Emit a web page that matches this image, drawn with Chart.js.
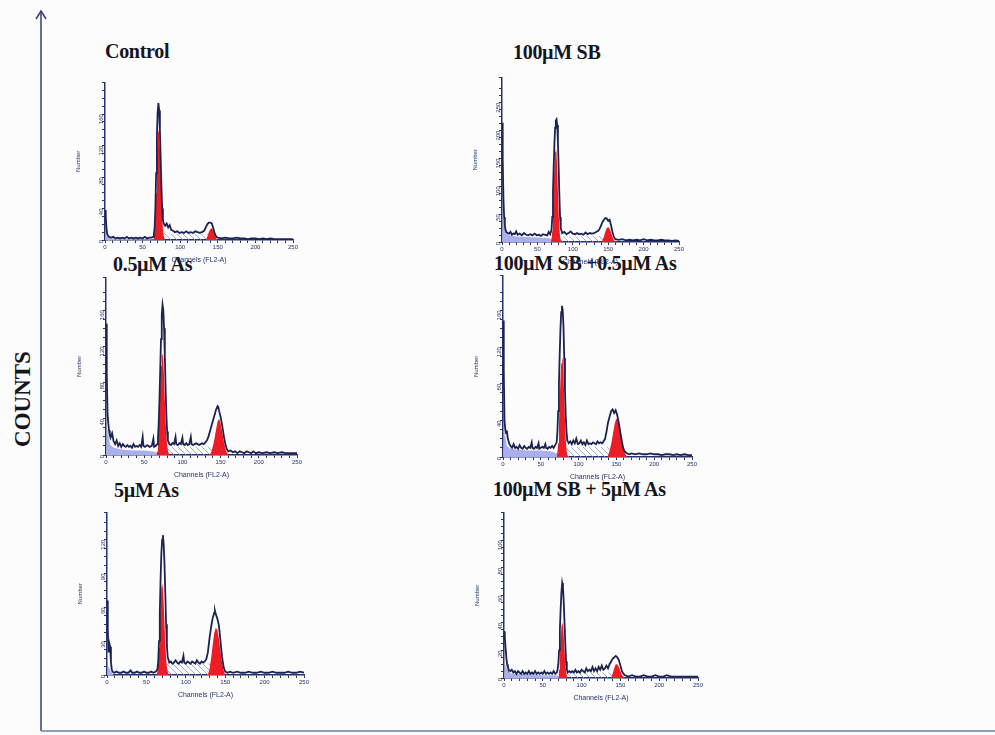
<!DOCTYPE html>
<html>
<head>
<meta charset="utf-8">
<script src="https://cdn.jsdelivr.net/npm/chart.js@4.4.1/dist/chart.umd.min.js"></script>
<style>
  body { margin: 0; background: #fcfcfc; }
  #page { position: relative; width: 995px; height: 735px; overflow: hidden; }
  #page canvas { position: absolute; }
  .ttl { position: absolute; font: bold 20px "Liberation Serif", "Times New Roman", serif; line-height: 20px;
         color: #15151f; white-space: nowrap; letter-spacing: -0.3px; }
  #counts { position: absolute; left: -38px; top: 387px; width: 120px; height: 24px; line-height: 24px;
            text-align: center; font: bold 23px "Liberation Serif", serif; color: #15151f;
            transform: rotate(-90deg); }
  svg { position: absolute; left: 0; top: 0; }
</style>
</head>
<body>
<div id="page">
  <svg width="995" height="735">
    <polyline points="36,19 41,11 46,19" fill="none" stroke="#34406e" stroke-width="1.5"/>
    <line x1="41" y1="11" x2="41" y2="731" stroke="#34406e" stroke-width="1.5"/>
    <line x1="41" y1="731" x2="995" y2="731" stroke="#8f9ec0" stroke-width="2"/>
  </svg>
  <div id="counts">COUNTS</div>
  <div class="ttl" style="left:105px; top:41px">Control</div>
  <div class="ttl" style="left:513px; top:42px">100µM SB</div>
  <div class="ttl" style="left:113px; top:254px">0.5µM As</div>
  <div class="ttl" style="left:494px; top:253px">100µM SB +0.5µM As</div>
  <div class="ttl" style="left:114px; top:480px">5µM As</div>
  <div class="ttl" style="left:493px; top:479px">100µM SB + 5µM As</div>
</div>
<script>
// ---- Control ----
const ctrlCh = [0,1,2,3,5,8,11,14,17,20,23,26,29,32,35,38,41,44,47,50,53,56,59,62,64,65,66,67,68,69,70,71,72,73,74,75,76,77,78,80,82,84,86,88,90,93,96,99,102,105,108,111,114,117,120,123,126,129,132,134,136,138,140,142,144,146,148,150,155,160,165,170,175,180,185,190,195,200,205,210,215,220,225,230,235,240,245,250];
const ctrlCounts = [38,30,14,7,4,3,4,2,3,2,3,2,4,2,3,2,3,2,3,2,4,2,3,3,4,7,16,40,85,130,162,174,165,140,105,68,40,26,21,18,21,16,19,13,12,10,11,9,10,9,11,9,10,9,11,10,9,10,12,16,20,22,22,21,15,8,4,3,2,3,2,2,3,2,2,1,2,2,1,2,1,2,1,1,1,1,1,1];
const ctrlG1Ch = [64,65,66,67,68,69,70,71,72,73,74,75,76,77,78,79,80];
const ctrlG1 = [0,3,10,28,60,100,130,140,135,115,85,55,30,14,6,2,0];
const ctrlG2Ch = [134,136,138,140,142,144,146,148,150];
const ctrlG2 = [0,4,10,14,15,12,6,2,0];
const ctrlSCh = [70,74,80,90,100,110,120,130,140,146,150];
const ctrlS = [0,8,9,8,8,8,8,8,7,4,0];
const ctrlDebCh = [0,2,5,10,20,40,60,70];
const ctrlDeb = [0,6,3,2,2,1,1,0];

// ---- 100uM SB ----
const sbCh = [0,1,2,3,4,5,6,8,10,12,14,16,18,20,22,25,28,31,34,37,40,43,46,49,52,55,58,61,64,66,68,70,71,72,73,74,75,76,77,78,79,80,81,82,83,85,88,91,94,97,100,103,106,109,112,115,118,121,124,127,130,133,136,138,140,142,144,146,148,150,152,154,156,158,160,165,170,175,180,185,190,195,200,205,210,215,220,225,230,235,240,245,250];
const sbCounts = [214,150,80,45,30,22,18,16,15,18,13,15,14,19,13,15,12,16,13,12,14,12,15,12,13,11,14,13,12,18,14,22,45,90,135,175,205,218,220,210,180,135,85,45,25,16,18,14,16,19,15,14,16,14,15,13,17,14,16,15,16,18,20,24,30,36,40,43,42,38,40,30,18,9,5,4,5,3,4,3,4,3,5,3,4,3,3,4,3,3,2,3,2];
const sbG1Ch = [69,70,71,72,73,74,75,76,77,78,79,80,81,82,83,84];
const sbG1 = [0,5,20,50,95,135,162,170,160,130,90,52,25,10,3,0];
const sbG2Ch = [140,142,144,146,148,150,152,154,156,158,160,162];
const sbG2 = [0,3,10,19,25,27,24,17,9,3,1,0];
const sbSCh = [72,78,85,100,115,130,140,148,156,162];
const sbS = [0,8,10,10,11,11,11,9,4,0];
const sbDebCh = [0,2,5,10,20,35,50,65,75,80];
const sbDeb = [0,40,18,12,10,9,8,7,4,0];

// ---- 0.5uM As ----
const asCh = [0,1,2,3,4,5,6,8,10,12,14,16,18,20,22,24,26,28,30,32,34,36,38,40,42,44,46,48,49,51,54,57,60,62,63,65,67,68,69,70,71,72,73,74,75,76,77,78,79,80,81,83,85,87,89,91,92,94,96,98,100,101,103,105,107,109,111,112,114,116,118,120,122,124,126,128,130,132,134,136,138,140,142,144,146,147,148,150,152,154,156,158,160,163,166,169,172,175,178,181,184,187,190,193,196,200,205,210,215,220,225,230,235,240,245,250];
const asCounts = [145,90,46,35,27,22,19,24,15,12,16,10,13,9,12,10,9,11,9,10,8,12,9,10,9,11,9,20,10,9,11,9,10,18,9,10,12,18,35,62,95,128,155,166,160,140,110,75,45,26,16,12,11,13,12,20,12,11,13,12,19,12,11,13,11,12,20,12,11,12,13,12,11,12,13,12,14,16,20,26,32,38,44,50,54,53,49,42,33,22,13,7,4,5,3,4,2,4,3,2,4,3,2,4,2,3,2,3,2,3,2,3,2,2,2,2];
const asG1Ch = [66,67,68,69,70,71,72,73,74,75,76,77,78,79,80,81,82,83,84];
const asG1 = [0,4,12,28,52,78,98,110,112,104,86,62,40,22,11,5,2,1,0];
const asG2Ch = [136,138,140,142,144,146,148,150,152,154,156,158,160];
const asG2 = [0,4,10,18,28,37,40,35,26,16,8,3,0];
const asSCh = [74,80,90,100,110,120,130,140,150,156,160];
const asS = [0,8,9,9,9,9,9,9,7,3,0];
const asDebCh = [0,2,5,10,20,35,50,62,70,74];
const asDeb = [0,30,12,8,6,5,5,4,2,0];

// ---- 100uM SB + 0.5uM As ----
const sbAsCh = [0,1,2,3,4,5,6,8,10,12,14,16,18,20,22,24,26,28,30,32,34,36,38,39,41,43,45,47,48,50,52,54,56,57,59,61,63,65,67,69,71,72,73,74,75,76,77,78,79,80,81,82,83,84,85,87,89,91,93,95,97,99,101,103,105,107,109,111,113,115,117,119,121,123,125,127,129,131,133,135,137,139,141,143,145,147,149,151,153,155,157,159,161,164,167,170,175,180,185,190,195,200,205,210,215,220,225,230,235,240,245,250];
const sbAsCounts = [149,95,40,30,26,29,22,15,12,10,14,10,11,9,13,10,9,12,10,9,11,10,16,10,9,11,10,15,9,10,11,10,14,10,9,11,10,12,10,13,16,28,50,80,112,140,158,165,160,142,108,72,45,28,18,15,17,14,18,15,20,14,15,18,14,16,13,18,14,15,14,16,15,14,17,15,16,15,17,20,28,38,44,50,52,48,51,46,38,28,18,10,6,4,3,4,3,4,3,3,4,3,3,2,3,3,2,3,2,3,2,2];
const sbAsG1Ch = [71,72,73,74,75,76,77,78,79,80,81,82,83,84,85,86];
const sbAsG1 = [0,5,15,35,60,85,102,109,105,90,65,40,20,8,2,0];
const sbAsG2Ch = [138,140,142,144,146,148,150,152,154,156,158,160,162,164];
const sbAsG2 = [0,4,10,18,28,37,42,41,35,26,16,8,3,0];
const sbAsSCh = [78,84,95,105,115,125,135,145,155,160,164];
const sbAsS = [0,10,11,11,11,11,11,10,7,3,0];
const sbAsDebCh = [0,2,5,10,20,35,50,65,74,78];
const sbAsDeb = [0,30,12,9,8,7,7,6,3,0];

// ---- 5uM As ----
const as5Ch = [0,1,2,3,4,5,6,7,9,12,15,18,21,24,27,30,32,35,38,41,44,47,50,53,56,59,62,64,65,66,67,68,69,70,71,72,73,74,75,76,77,79,81,83,85,87,89,91,93,95,97,98,100,102,104,106,108,110,112,114,116,118,120,122,124,126,128,130,132,134,136,137,138,140,142,144,146,148,150,153,156,160,165,170,175,180,185,190,195,200,205,210,215,220,225,230,235,240,245,250];
const as5Counts = [66,40,20,28,25,12,5,3,2,3,2,2,3,2,2,4,2,2,3,2,2,3,2,2,3,2,3,5,12,30,55,85,108,120,124,115,98,72,45,26,16,11,12,10,11,13,11,10,12,11,17,11,10,12,11,10,12,11,10,13,11,10,12,11,12,14,20,32,42,50,55,57,54,50,44,30,16,7,3,2,3,2,3,2,2,3,2,2,3,2,2,3,2,2,2,3,2,2,3,2];
const as5G1Ch = [63,64,65,66,67,68,69,70,71,72,73,74,75,76,77,78,79];
const as5G1 = [0,3,10,24,44,64,77,81,76,62,45,28,15,7,3,1,0];
const as5G2Ch = [128,130,132,134,136,138,140,142,144,146,148,150];
const as5G2 = [0,5,14,26,37,42,40,32,21,11,4,0];
const as5SCh = [70,76,85,95,105,115,125,135,142,147,150];
const as5S = [0,10,10,10,10,10,10,10,8,3,0];
const as5DebCh = [0,2,5,8];
const as5Deb = [0,8,3,0];

// ---- 100uM SB + 5uM As ----
const sbAs5Ch = [0,1,2,3,4,5,6,8,10,12,14,16,18,20,22,24,26,28,30,32,34,36,38,40,42,44,46,48,50,52,54,56,58,60,62,64,66,68,69,70,71,72,73,74,75,76,77,78,79,80,81,82,84,86,88,90,92,94,96,98,100,102,104,106,108,110,112,114,116,118,120,122,124,126,128,130,132,134,136,138,140,142,144,146,148,150,152,154,156,160,165,170,175,180,185,190,195,200,205,210,215,220,225,230,235,240,245,250];
const sbAs5Counts = [34,30,22,15,10,8,6,5,6,4,5,3,5,4,3,5,3,4,3,5,3,4,3,5,3,4,3,4,3,5,3,4,3,4,3,5,3,4,6,10,20,35,50,62,69,66,55,40,25,12,6,4,5,4,5,4,6,4,5,4,6,5,4,7,5,6,5,8,5,7,5,8,6,9,6,7,9,7,10,12,14,15,16,15,13,9,5,3,2,1,2,1,1,2,1,1,2,1,1,2,1,1,1,1,1,1,1,1];
const sbAs5G1Ch = [70,71,72,73,74,75,76,77,78,79,80,81,82];
const sbAs5G1 = [0,6,16,28,37,40,38,30,20,11,5,1,0];
const sbAs5G2Ch = [138,140,142,144,146,148,150,152,154,156];
const sbAs5G2 = [0,3,7,10,10,8,5,2,1,0];
const sbAs5SCh = [76,82,95,110,125,140,148,154];
const sbAs5S = [0,4,4,4,4,4,2,0];
const sbAs5DebCh = [0,2,5,10,30,50,68,72];
const sbAs5Deb = [0,10,5,3,3,2,2,0];

// channel tick labels, y tick steps
const xMax = 250;
const xLabelStep = 50;

const pts = (xs, ys) => xs.map((x, i) => ({ x: x, y: ys[i] }));

// chart areas (left, top, right, bottom) in page pixels
const panels = [
  { area: [105, 82, 293, 240],  yMax: 200, yStep: 40, h: [ctrlCh, ctrlCounts], g1: [ctrlG1Ch, ctrlG1], g2: [ctrlG2Ch, ctrlG2], s: [ctrlSCh, ctrlS], deb: [ctrlDebCh, ctrlDeb] },
  { area: [502, 77, 679, 242],  yMax: 295, yStep: 50, h: [sbCh, sbCounts], g1: [sbG1Ch, sbG1], g2: [sbG2Ch, sbG2], s: [sbSCh, sbS], deb: [sbDebCh, sbDeb] },
  { area: [106, 277, 297, 455], yMax: 196, yStep: 40, h: [asCh, asCounts], g1: [asG1Ch, asG1], g2: [asG2Ch, asG2], s: [asSCh, asS], deb: [asDebCh, asDeb] },
  { area: [503, 275, 692, 457], yMax: 198, yStep: 40, h: [sbAsCh, sbAsCounts], g1: [sbAsG1Ch, sbAsG1], g2: [sbAsG2Ch, sbAsG2], s: [sbAsSCh, sbAsS], deb: [sbAsDebCh, sbAsDeb] },
  { area: [107, 512, 304, 675], yMax: 144, yStep: 30, h: [as5Ch, as5Counts], g1: [as5G1Ch, as5G1], g2: [as5G2Ch, as5G2], s: [as5SCh, as5S], deb: [as5DebCh, as5Deb] },
  { area: [504, 512, 698, 678], yMax: 120, yStep: 20, h: [sbAs5Ch, sbAs5Counts], g1: [sbAs5G1Ch, sbAs5G1], g2: [sbAs5G2Ch, sbAs5G2], s: [sbAs5SCh, sbAs5S], deb: [sbAs5DebCh, sbAs5Deb] }
];

const navy = '#26306a';
const red = '#ee1c25';
const lavender = '#aab0ee';

function hatchPattern() {
  const c = document.createElement('canvas');
  c.width = 6; c.height = 6;
  const g = c.getContext('2d');
  g.strokeStyle = '#8e94b8';
  g.lineWidth = 0.8;
  g.beginPath();
  g.moveTo(0, 0); g.lineTo(6, 6);
  g.moveTo(-3, 3); g.lineTo(3, 9);
  g.moveTo(3, -3); g.lineTo(9, 3);
  g.stroke();
  return g.createPattern(c, 'repeat');
}

const Y_W = 30, X_H = 24, PAD_T = 4, PAD_R = 8;
const page = document.getElementById('page');

panels.forEach((p) => {
  const [L, T, R, B] = p.area;
  const cv = document.createElement('canvas');
  cv.width = R - L + Y_W + PAD_R;
  cv.height = B - T + PAD_T + X_H;
  cv.style.left = (L - Y_W) + 'px';
  cv.style.top = (T - PAD_T) + 'px';
  page.appendChild(cv);

  const fitStyle = { pointRadius: 0, borderWidth: 0, tension: 0, fill: 'origin' };

  new Chart(cv.getContext('2d'), {
    type: 'line',
    data: {
      datasets: [
        { label: 'Histogram', data: pts(p.h[0], p.h[1]), borderColor: '#1c2350', borderWidth: 1.8,
          pointRadius: 0, tension: 0, fill: false, order: 0 },
        Object.assign({ label: 'G1', data: pts(p.g1[0], p.g1[1]), backgroundColor: red, order: 1 }, fitStyle),
        Object.assign({ label: 'G2', data: pts(p.g2[0], p.g2[1]), backgroundColor: red, order: 1 }, fitStyle),
        Object.assign({ label: 'Debris', data: pts(p.deb[0], p.deb[1]), backgroundColor: lavender, order: 2 }, fitStyle),
        Object.assign({ label: 'S', data: pts(p.s[0], p.s[1]), backgroundColor: hatchPattern(), order: 3 }, fitStyle)
      ]
    },
    options: {
      responsive: false,
      animation: false,
      devicePixelRatio: 1,
      layout: { padding: { top: PAD_T, right: PAD_R, left: 0, bottom: 0 } },
      plugins: { legend: { display: false }, tooltip: { enabled: false } },
      scales: {
        x: {
          type: 'linear', min: 0, max: xMax,
          border: { display: true, color: navy, width: 1.5 },
          grid: { drawOnChartArea: false, drawTicks: true, tickLength: 3, color: navy },
          ticks: {
            stepSize: 10, autoSkip: false, maxRotation: 0, padding: 1,
            color: navy, font: { size: 6, family: 'Liberation Sans' },
            callback: (v) => (v % xLabelStep === 0 ? String(v) : '')
          },
          title: { display: true, text: 'Channels (FL2-A)', color: navy, padding: 0,
                   font: { size: 7, family: 'Liberation Sans' } },
          afterFit: (s) => { s.height = X_H; }
        },
        y: {
          min: 0, max: p.yMax,
          border: { display: true, color: navy, width: 1.5 },
          grid: { drawOnChartArea: false, drawTicks: true, tickLength: 3, color: navy },
          ticks: {
            stepSize: p.yStep / 4, autoSkip: false, minRotation: 90, maxRotation: 90, padding: 1,
            color: navy, font: { size: 6, family: 'Liberation Sans' },
            callback: (v) => (v % p.yStep === 0 && v < p.yMax - 1 ? String(v) : '')
          },
          title: { display: true, text: 'Number', color: navy, padding: 0,
                   font: { size: 6, family: 'Liberation Sans' } },
          afterFit: (s) => { s.width = Y_W; }
        }
      }
    }
  });
});
</script>
</body>
</html>
